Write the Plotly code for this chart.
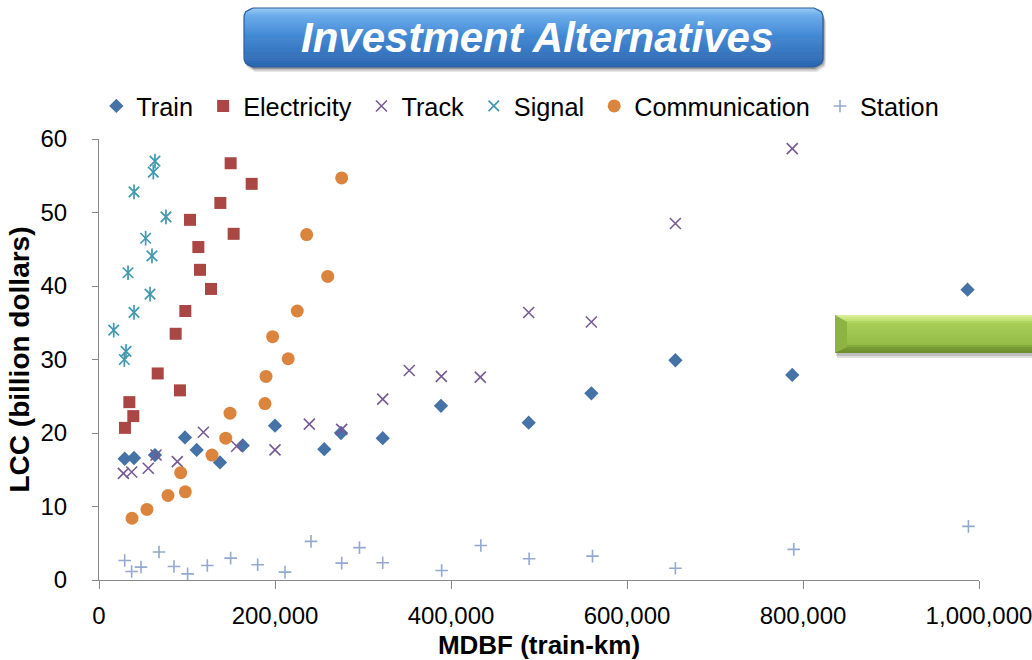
import math
import plotly.graph_objects as go

# MDBF (train-km) and LCC (billion dollars) of each investment alternative
train_x = [29200, 39800, 63600, 97700, 111000, 137500, 163300, 200000, 256000,
           275000, 322400, 388600, 488300, 559500, 655000, 787800, 987000]
train_y = [16.5, 16.6, 17.0, 19.4, 17.7, 16.0, 18.3, 21.0, 17.8,
           20.0, 19.3, 23.7, 21.4, 25.4, 29.9, 27.9, 39.5]

electricity_x = [149600, 173500, 137900, 103400, 153000, 112900, 114800, 127300,
                 98100, 87100, 66700, 92000, 34500, 39000, 29500]
electricity_y = [56.7, 53.9, 51.3, 49.0, 47.1, 45.3, 42.2, 39.6,
                 36.6, 33.5, 28.1, 25.8, 24.2, 22.3, 20.7]

track_x = [27700, 37100, 56000, 64800, 89000, 118600, 156400, 200000, 239000,
           275800, 322400, 352600, 389000, 433300, 488300, 559500, 655000, 787800]
track_y = [14.5, 14.7, 15.2, 17.0, 16.1, 20.1, 18.2, 17.7, 21.2,
           20.5, 24.6, 28.5, 27.7, 27.6, 36.4, 35.1, 48.5, 58.7]

signal_x = [63600, 61700, 39800, 76100, 53000, 60200, 33000, 58000, 39800,
            16700, 30700, 28800]
signal_y = [57.0, 55.5, 52.8, 49.4, 46.5, 44.1, 41.8, 38.9, 36.4,
            34.0, 31.1, 30.0]

communication_x = [275800, 236000, 259900, 225300, 197300, 215000, 189800, 188600,
                   148900, 144000, 128400, 92800, 98100, 78400, 54500, 37500]
communication_y = [54.7, 47.0, 41.3, 36.6, 33.1, 30.1, 27.7, 24.0,
                   22.7, 19.3, 17.0, 14.6, 12.0, 11.5, 9.6, 8.4]

station_x = [29200, 37100, 47700, 68200, 85200, 100700, 123100, 149600, 180300,
             211400, 240900, 275800, 296000, 322400, 389400, 433900, 488800,
             560800, 655000, 789500, 988000]
station_y = [2.66, 1.16, 1.75, 3.8, 1.84, 0.84, 1.98, 2.98, 2.07,
             1.07, 5.25, 2.3, 4.4, 2.34, 1.3, 4.7, 2.9,
             3.25, 1.6, 4.16, 7.3]

x_ticks = [0, 200000, 400000, 600000, 800000, 1000000]
y_ticks = [0, 10, 20, 30, 40, 50, 60]

FONT = "Liberation Sans, Arial, sans-serif"
W, H = 1032, 660
L, R, T, B = 99, 53, 139, 80
PW, PH = W - L - R, H - T - B

# a little extra room after each legend label
PAD = "\u2009"


def px(x):
    return (x - L) / PW


def py(y):
    return (H - B - y) / PH


def hex_rgb(h):
    h = h.lstrip("#")
    return tuple(int(h[i:i + 2], 16) for i in (0, 2, 4))


def mix(stops, t):
    for (t0, c0), (t1, c1) in zip(stops, stops[1:]):
        if t0 <= t <= t1:
            f = 0 if t1 == t0 else (t - t0) / (t1 - t0)
            a, b = hex_rgb(c0), hex_rgb(c1)
            return "rgb(%d,%d,%d)" % tuple(round(a[i] + (b[i] - a[i]) * f) for i in range(3))
    return stops[-1][1]


def band_path(x0, x1, y0, y1, r, s0, s1, n=8):
    """Slice of a rounded rectangle between pixel rows s0 and s1, in paper units."""
    def inset(y):
        if y < y0 + r:
            d = y0 + r - y
        elif y > y1 - r:
            d = y - (y1 - r)
        else:
            return 0.0
        d = min(d, r)
        return r - math.sqrt(max(r * r - d * d, 0.0))
    ys = [s0 + (s1 - s0) * i / n for i in range(n + 1)]
    pts = [(x0 + inset(y), y) for y in ys] + [(x1 - inset(y), y) for y in reversed(ys)]
    return "M" + " L".join(f"{px(a):.5f},{py(b):.5f}" for a, b in pts) + " Z"


def poly_path(pts):
    return "M" + " L".join(f"{px(a):.5f},{py(b):.5f}" for a, b in pts) + " Z"


shapes = []

# title button: soft shadow, vertical gradient, outline
bx0, bx1, by0, by1, br = 244, 823, 8, 67, 9
for off, alpha in [(5, 0.10), (3.5, 0.16), (2, 0.22)]:
    shapes.append(dict(type="path", xref="paper", yref="paper", layer="above",
                       path=band_path(bx0 + off * 0.4, bx1 + off * 0.6, by0 + off, by1 + off, br,
                                      by0 + off, by1 + off, 12),
                       fillcolor=f"rgba(0,0,0,{alpha})", line=dict(width=0)))
blue_stops = [(0.0, "#9ACBF4"), (0.12, "#6EADEB"), (0.5, "#3F86D3"), (1.0, "#2A66B2")]
n_band = 30
for i in range(n_band):
    s0 = by0 + (by1 - by0) * i / n_band
    s1 = min(by0 + (by1 - by0) * (i + 1) / n_band + 0.4, by1)
    shapes.append(dict(type="path", xref="paper", yref="paper", layer="above",
                       path=band_path(bx0, bx1, by0, by1, br, s0, s1, 6),
                       fillcolor=mix(blue_stops, (i + 0.5) / n_band), line=dict(width=0)))
shapes.append(dict(type="path", xref="paper", yref="paper", layer="above",
                   path=band_path(bx0, bx1, by0, by1, br, by0, by1, 16),
                   fillcolor="rgba(0,0,0,0)", line=dict(color="#2C5D9C", width=1.2)))

# green bevelled bar on the right
gx0, gx1, gy0, gy1 = 835, 1045, 315, 353
shapes.append(dict(type="rect", xref="paper", yref="paper", layer="above",
                   x0=px(gx0 + 2), x1=px(gx1), y0=py(gy1 + 5), y1=py(gy0 + 4),
                   fillcolor="rgba(0,0,0,0.13)", line=dict(width=0)))
shapes.append(dict(type="rect", xref="paper", yref="paper", layer="above",
                   x0=px(gx0 + 1), x1=px(gx1), y0=py(gy1 + 3), y1=py(gy0 + 3),
                   fillcolor="rgba(0,0,0,0.15)", line=dict(width=0)))
green_stops = [(0.0, "#DDF29B"), (0.16, "#BBDC6C"), (0.2, "#A9CE58"), (0.78, "#93BC46"),
               (0.84, "#7A9E36"), (1.0, "#6A8A2D")]
n_g = 19
for i in range(n_g):
    s0 = gy0 + (gy1 - gy0) * i / n_g
    s1 = min(gy0 + (gy1 - gy0) * (i + 1) / n_g + 0.4, gy1)
    shapes.append(dict(type="rect", xref="paper", yref="paper", layer="above",
                       x0=px(gx0), x1=px(gx1), y0=py(s1), y1=py(s0),
                       fillcolor=mix(green_stops, (i + 0.5) / n_g), line=dict(width=0)))
shapes.append(dict(type="path", xref="paper", yref="paper", layer="above",
                   path=poly_path([(gx0, gy0), (gx0 + 12, gy0 + 7), (gx0 + 12, gy1 - 6), (gx0, gy1)]),
                   fillcolor="#8DB443", line=dict(width=0)))

fig = go.Figure()

fig.add_trace(go.Scatter(
    x=train_x, y=train_y, name="Train" + PAD, mode="markers",
    marker=dict(symbol="diamond", size=11, color="#4572A7", line=dict(width=0))))
fig.add_trace(go.Scatter(
    x=electricity_x, y=electricity_y, name="Electricity" + PAD, mode="markers",
    marker=dict(symbol="square", size=12, color="#AA4643", line=dict(width=0))))
fig.add_trace(go.Scatter(
    x=track_x, y=track_y, name="Track" + PAD, mode="markers",
    marker=dict(symbol="x-thin-open", size=11, color="#765A95",
                line=dict(width=1.6, color="#765A95"))))
fig.add_trace(go.Scatter(
    x=signal_x, y=signal_y, name="Signal" + PAD, mode="markers", legendgroup="signal",
    marker=dict(symbol="x-thin-open", size=10.5, color="#4198AF",
                line=dict(width=1.7, color="#4198AF"))))
fig.add_trace(go.Scatter(
    x=signal_x, y=signal_y, name="Signal", mode="markers", legendgroup="signal",
    showlegend=False,
    marker=dict(symbol="line-ns-open", size=10.5, color="#4198AF",
                line=dict(width=1.7, color="#4198AF"))))
fig.add_trace(go.Scatter(
    x=communication_x, y=communication_y, name="Communication" + PAD, mode="markers",
    marker=dict(symbol="circle", size=13, color="#DB843D", line=dict(width=0))))
fig.add_trace(go.Scatter(
    x=station_x, y=station_y, name="Station", mode="markers",
    marker=dict(symbol="cross-thin-open", size=9, color="#93A9CF",
                line=dict(width=1.6, color="#93A9CF"))))

fig.update_layout(
    width=W, height=H, autosize=False,
    margin=dict(l=L, r=R, t=T, b=B, pad=0),
    paper_bgcolor="white", plot_bgcolor="white",
    font=dict(family=FONT, color="#000000"),
    showlegend=True,
    legend=dict(orientation="h", x=-0.003, xanchor="left", y=py(106), yanchor="middle",
                font=dict(family=FONT, size=25.3, color="#000000"),
                bgcolor="rgba(0,0,0,0)", borderwidth=0, traceorder="normal"),
    shapes=shapes,
    annotations=[dict(
        text="<b><i>Investment Alternatives</i></b>", xref="paper", yref="paper",
        x=px(537), y=py(38), xanchor="center", yanchor="middle", showarrow=False,
        font=dict(family=FONT, size=42, color="#FFFFFF"))],
)

fig.update_xaxes(
    range=[0, 1000000], tickvals=x_ticks, tickformat=",", showgrid=False, zeroline=False,
    automargin=False,
    showline=True, linecolor="#888888", linewidth=1,
    ticks="outside", ticklen=8, tickcolor="#888888", tickwidth=1,
    tickfont=dict(family=FONT, size=24, color="#000000"), ticklabelstandoff=6,
    ticklabeloverflow="allow",
    title=dict(text="MDBF (train-km)", standoff=12,
               font=dict(family=FONT, size=26, color="#000000", weight="bold")))
fig.update_yaxes(
    range=[0, 60], tickvals=y_ticks, showgrid=False, zeroline=False,
    automargin=False,
    showline=True, linecolor="#888888", linewidth=1,
    ticks="outside", ticklen=6, tickcolor="#888888", tickwidth=1,
    tickfont=dict(family=FONT, size=24, color="#000000"), ticklabelstandoff=20,
    title=dict(text="LCC (billion dollars)", standoff=2,
               font=dict(family=FONT, size=28, color="#000000", weight="bold")))

fig.write_html("out.html")
